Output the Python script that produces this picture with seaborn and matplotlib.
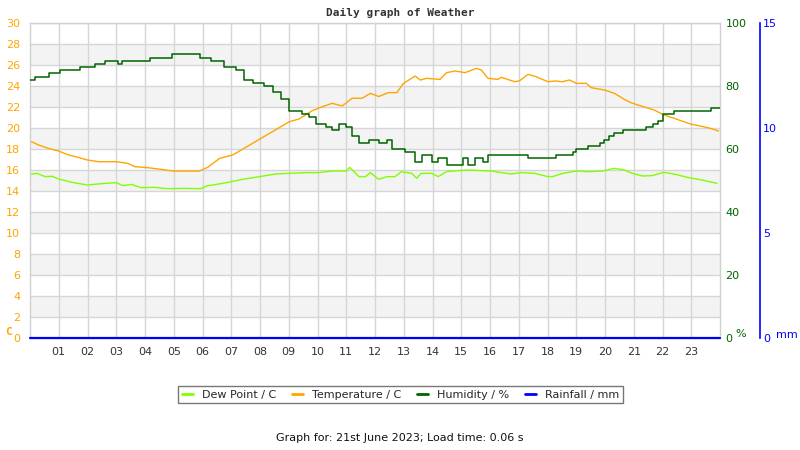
import matplotlib
matplotlib.use("Agg")
import matplotlib.pyplot as plt
import seaborn as sns

# readings taken off the daily weather graph (hour of day, value)
temp_hours = [0.0, 0.3, 0.64, 1.0, 1.34, 1.68, 2.0, 2.38, 3.0, 3.41, 3.64, 4.1, 4.56, 4.98,
              5.89, 6.18, 6.59, 7.05, 7.98, 9.02, 9.36, 9.82, 10.17, 10.51, 10.86, 11.2,
              11.55, 11.84, 12.13, 12.47, 12.76, 12.99, 13.4, 13.57, 13.8, 14.26, 14.49,
              14.78, 15.13, 15.53, 15.7, 15.93, 16.28, 16.39, 16.86, 17.03, 17.32, 17.6,
              18.01, 18.3, 18.5, 18.77, 19.0, 19.35, 19.52, 19.98, 20.33, 20.67, 20.9,
              21.25, 21.71, 22.06, 22.5, 22.97, 23.32, 23.66, 23.95]
temp_c = [18.76, 18.38, 18.06, 17.8, 17.43, 17.2, 16.95, 16.79, 16.79, 16.63, 16.32, 16.22,
          16.06, 15.9, 15.9, 16.25, 17.1, 17.43, 18.92, 20.6, 20.86, 21.65, 22.03, 22.35,
          22.1, 22.83, 22.83, 23.3, 23.0, 23.37, 23.37, 24.25, 24.95, 24.57, 24.73, 24.63,
          25.27, 25.43, 25.27, 25.68, 25.52, 24.73, 24.63, 24.83, 24.41, 24.5, 25.11, 24.89,
          24.41, 24.48, 24.4, 24.57, 24.25, 24.25, 23.84, 23.62, 23.3, 22.73, 22.41, 22.1,
          21.71, 21.24, 20.83, 20.38, 20.19, 19.97, 19.71]

dew_hours = [0.0, 0.24, 0.53, 0.77, 1.0, 1.45, 2.0, 2.6, 3.0, 3.24, 3.52, 3.87, 4.33, 4.79,
             5.37, 5.94, 6.18, 6.36, 6.82, 7.4, 7.99, 8.55, 8.99, 9.59, 10.0, 10.51, 11.0,
             11.12, 11.44, 11.67, 11.84, 12.13, 12.42, 12.7, 12.92, 13.28, 13.45, 13.6,
             13.97, 14.2, 14.49, 14.9, 15.24, 15.7, 16.05, 16.39, 16.74, 17.09, 17.55,
             18.01, 18.18, 18.53, 19.0, 19.45, 19.92, 20.32, 20.67, 20.95, 21.3, 21.64,
             22.05, 22.45, 22.91, 23.37, 23.9]
dew_c = [15.59, 15.68, 15.37, 15.4, 15.14, 14.83, 14.57, 14.73, 14.79, 14.51, 14.63, 14.32,
         14.35, 14.22, 14.25, 14.22, 14.51, 14.57, 14.79, 15.11, 15.37, 15.62, 15.68, 15.75,
         15.75, 15.9, 15.9, 16.25, 15.37, 15.37, 15.75, 15.11, 15.37, 15.37, 15.84, 15.68,
         15.21, 15.68, 15.68, 15.37, 15.84, 15.94, 16.0, 15.94, 15.9, 15.75, 15.62, 15.75,
         15.68, 15.37, 15.37, 15.68, 15.9, 15.84, 15.9, 16.16, 16.0, 15.68, 15.43, 15.46,
         15.78, 15.59, 15.27, 15.05, 14.73]

hum_hours = [0.0, 0.18, 0.66, 1.05, 1.74, 2.26, 2.6, 3.07, 3.2, 4.16, 4.93, 5.92, 6.3, 6.76,
             7.17, 7.46, 7.74, 8.15, 8.44, 8.73, 9.01, 9.47, 9.71, 9.94, 10.28, 10.51, 10.74,
             11.0, 11.2, 11.44, 11.78, 12.13, 12.42, 12.6, 13.05, 13.4, 13.63, 13.97, 14.2,
             14.49, 14.78, 15.07, 15.24, 15.47, 15.76, 15.93, 16.39, 17.32, 17.78, 18.3,
             18.88, 19.0, 19.4, 19.81, 19.98, 20.15, 20.33, 20.62, 21.43, 21.66, 21.83,
             22.0, 22.41, 23.68, 24.0]
hum_pct = [82, 83, 84, 85, 86, 87, 88, 87, 88, 89, 90, 89, 88, 86,
           85, 82, 81, 80, 78, 76, 72, 71, 70, 68, 67, 66, 68,
           67, 64, 62, 63, 62, 63, 60, 59, 56, 58, 56, 57,
           55, 55, 57, 55, 57, 56, 58, 58, 57, 57, 58,
           59, 60, 61, 62, 63, 64, 65, 66, 67, 68, 69,
           71, 72, 73, 73]

rain_hours = [0.0, 24.0]
rain_mm = [0.0, 0.0]

temp_ticks = list(range(0, 31, 2))
hum_ticks = [0, 20, 40, 60, 80, 100]
rain_ticks = [0, 5, 10, 15]
hour_labels = [f"{h:02d}" for h in range(1, 24)]

sns.set_theme(style="white")
plt.rcParams["font.family"] = ["DejaVu Sans"]

fig = plt.figure(figsize=(8, 4.5), dpi=100)
ax = fig.add_axes([0.0375, 0.2489, 0.8625, 0.7])

# alternating shaded bands
for y0 in range(2, 28, 4):
    ax.axhspan(y0, y0 + 2, color="#f3f3f3", zorder=0, lw=0)

sns.lineplot(x=dew_hours, y=dew_c, ax=ax, color="#80ff00", lw=1, label="Dew Point / C")
sns.lineplot(x=temp_hours, y=temp_c, ax=ax, color="#ffa500", lw=1, label="Temperature / C")

ax.set_xlim(0, 24)
ax.set_ylim(0, 30)
ax.set_xticks(range(1, 24))
ax.set_xticklabels(hour_labels)
ax.set_yticks(temp_ticks)
ax.set_axisbelow(True)
ax.grid(True, color="#d6d6d6", lw=1)
ax.tick_params(axis="x", length=0, pad=6.5, labelsize=8, labelcolor="#333333")
ax.tick_params(axis="y", length=0, pad=7, labelsize=8, labelcolor="#ffa500")
for s in ax.spines.values():
    s.set_color("#d0d0d0")
    s.set_linewidth(1)
ax.set_xlabel("")
ax.set_ylabel("")

# humidity axis
ax2 = ax.twinx()
sns.lineplot(x=hum_hours, y=hum_pct, ax=ax2, color="#006400", lw=1.1,
             drawstyle="steps-post", label="Humidity / %")
ax2.set_ylim(0, 100)
ax2.set_yticks(hum_ticks)
ax2.tick_params(axis="y", length=0, pad=4, labelsize=8, labelcolor="#006400")
for s in ax2.spines.values():
    s.set_visible(False)
ax2.set_ylabel("")

# rainfall axis
ax3 = ax.twinx()
sns.lineplot(x=rain_hours, y=rain_mm, ax=ax3, color="#0000ff", lw=1.6,
             clip_on=False, label="Rainfall / mm")
ax3.set_ylim(0, 15)
ax3.set_yticks(rain_ticks)
for s in ax3.spines.values():
    s.set_visible(False)
ax3.spines["right"].set_visible(True)
ax3.spines["right"].set_position(("axes", 1.058))
ax3.spines["right"].set_color("#0000ff")
ax3.spines["right"].set_linewidth(1.2)
ax3.tick_params(axis="y", length=0, pad=2, labelsize=8, labelcolor="#0000ff")
ax3.set_ylabel("")
ax.set_xlim(0, 24)

handles, labels = [], []
for a in (ax, ax2, ax3):
    h, l = a.get_legend_handles_labels()
    handles += h
    labels += l
    if a.get_legend() is not None:
        a.get_legend().remove()

leg = fig.legend(handles, labels, loc="center", bbox_to_anchor=(0.5006, 0.1233), ncol=4,
                 fontsize=8, frameon=True, fancybox=False, edgecolor="#777777",
                 handlelength=1.0, columnspacing=1.4, handletextpad=0.8,
                 borderpad=0.35, framealpha=1)
leg.get_frame().set_linewidth(1)
for line in leg.get_lines():
    line.set_linewidth(2)

fig.text(0.5, 1 - 13 / 450, "Daily graph of Weather", ha="center", va="center",
         fontsize=8, fontweight="bold", family="DejaVu Sans Mono", color="#333333")
fig.text(5 / 800, 1 - 332 / 450, "C", ha="left", va="center", fontsize=8,
         fontweight="bold", family="DejaVu Sans Mono", color="#ffa500")
fig.text(735 / 800, 1 - 334 / 450, "%", ha="left", va="center", fontsize=8, color="#006400")
fig.text(776 / 800, 1 - 335 / 450, "mm", ha="left", va="center", fontsize=8, color="#0000ff")
fig.text(0.5, 1 - 438 / 450, "Graph for: 21st June 2023; Load time: 0.06 s",
         ha="center", va="center", fontsize=8, color="#111111")

fig.savefig("out.png", dpi=100)
